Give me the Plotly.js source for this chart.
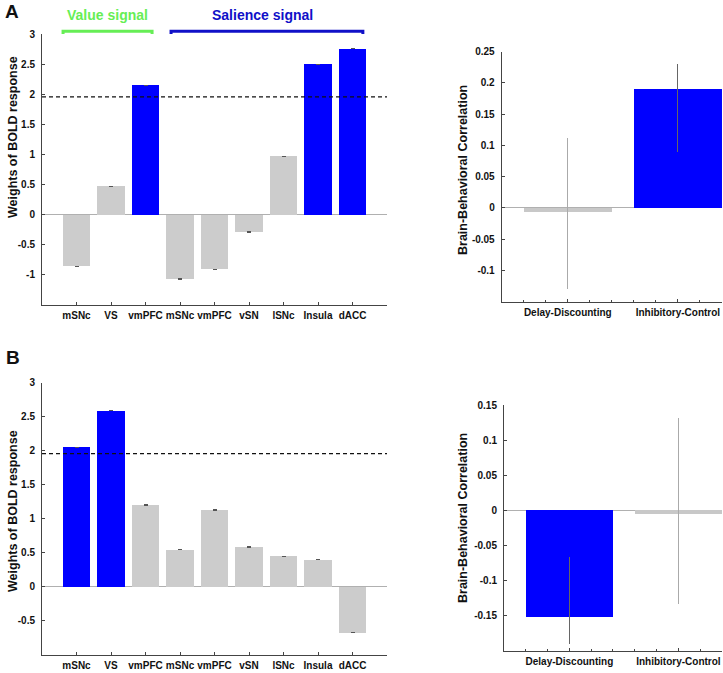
<!DOCTYPE html>
<html>
<head>
<meta charset="utf-8">
<script src="https://cdn.plot.ly/plotly-3.0.1.min.js"></script>
<style>
  html, body { margin: 0; padding: 0; background: white; }
  #chart { width: 723px; height: 673px; }
</style>
</head>
<body>
<div id="chart"></div>
<script>
const regionsA = ["mSNc", "VS", "vmPFC", "mSNc", "vmPFC", "vSN", "lSNc", "Insula", "dACC"];
const weightsA = [-0.86, 0.47, 2.15, -1.07, -0.91, -0.29, 0.97, 2.5, 2.76];
const regionsB = ["mSNc", "VS", "vmPFC", "mSNc", "vmPFC", "vSN", "lSNc", "Insula", "dACC"];
const weightsB = [2.05, 2.59, 1.2, 0.55, 1.13, 0.59, 0.45, 0.4, -0.67];
const threshold = 1.96;

const behaviors = ["Delay-Discounting", "Inhibitory-Control"];
const corrA = [-0.007, 0.19];
const corrAPlus = [0.119, 0.041];
const corrAMinus = [0.122, 0.1];
const sigA = [false, true];
const corrB = [-0.152, -0.006];
const corrBPlus = [0.085, 0.137];
const corrBMinus = [0.038, 0.128];
const sigB = [true, false];

const BLUE = "#0000ff";
const GRAY = "#cccccc";
const AXIS = "#444444";
const FONT = "Liberation Sans Narrow, Arial Narrow, Liberation Sans, Arial, sans-serif";

function weightTrace(labels, weights, xa, ya) {
  return {
    type: "bar",
    x: labels.map((_, i) => i + 1),
    y: weights,
    width: 0.8,
    xaxis: xa,
    yaxis: ya,
    marker: { color: weights.map((w) => (w > threshold ? BLUE : GRAY)) },
    error_y: {
      type: "data",
      array: weights.map((w) => (w > threshold ? 0 : 0.004)),
      color: "#555",
      thickness: 1,
      width: 2
    }
  };
}

function corrTraces(values, plus, minus, sig, xa, ya) {
  return values.map((v, i) => ({
    type: "bar",
    x: [i + 1],
    y: [v],
    width: 0.8,
    xaxis: xa,
    yaxis: ya,
    marker: { color: sig[i] ? BLUE : "#c8c8c8" },
    error_y: {
      type: "data",
      symmetric: false,
      array: [plus[i]],
      arrayminus: [minus[i]],
      color: sig[i] ? "#666" : "#aaa",
      thickness: 1,
      width: 0
    }
  }));
}

const tickFont = { family: FONT, size: 10, color: "#111", weight: "bold" };

function baseAxis(extra) {
  return Object.assign({
    showline: true,
    linecolor: AXIS,
    linewidth: 1,
    ticks: "inside",
    ticklen: 3,
    tickcolor: AXIS,
    showgrid: false,
    zeroline: false,
    tickfont: tickFont,
    tickangle: 0,
    ticklabeloverflow: "allow",
    fixedrange: true
  }, extra);
}

function regionX(domain, labels, anchor) {
  return baseAxis({
    domain,
    anchor,
    range: [0, labels.length + 1],
    tickvals: labels.map((_, i) => i + 1),
    ticktext: labels,
    ticklabelstandoff: 1
  });
}

function behaviorX(domain, anchor) {
  return baseAxis({
    domain,
    anchor,
    range: [0.4, 2.4],
    tickvals: [1, 2],
    ticktext: behaviors,
    ticklabelstandoff: 1,
    minor: { tick0: 0, dtick: 0.2, ticks: "inside", ticklen: 2, tickcolor: AXIS }
  });
}

function valueY(domain, anchor, range, tickvals) {
  return baseAxis({
    domain,
    anchor,
    range,
    tickvals,
    ticktext: tickvals.map((t) => String(Math.round(t * 100) / 100)),
    ticklabelstandoff: 4,
    zeroline: true,
    zerolinecolor: "#b0b0b0",
    zerolinewidth: 1
  });
}

const data = [
  weightTrace(regionsA, weightsA, "x", "y"),
  ...corrTraces(corrA, corrAPlus, corrAMinus, sigA, "x2", "y2"),
  weightTrace(regionsB, weightsB, "x3", "y3"),
  ...corrTraces(corrB, corrBPlus, corrBMinus, sigB, "x4", "y4")
];

function yTitle(text, x, y) {
  return {
    text, xref: "paper", yref: "paper", x, y,
    xanchor: "center", yanchor: "middle",
    showarrow: false, textangle: -90,
    font: { family: "Liberation Sans, Arial, sans-serif", size: 12.5, color: "#111", weight: "bold" }
  };
}

function label(text, x, y, size, color) {
  return {
    text, xref: "paper", yref: "paper", x: x / 723, y: 1 - y / 673,
    xanchor: "center", yanchor: "middle", showarrow: false,
    font: { family: "Liberation Sans, Arial, sans-serif", size, color, weight: "bold" }
  };
}

function bracket(x0, x1, color) {
  return {
    type: "path",
    xref: "x", yref: "paper",
    path: `M ${x0},0.9495 L ${x0},0.9535 L ${x1},0.9535 L ${x1},0.9495`,
    line: { color, width: 3 }
  };
}

const layout = {
  width: 723,
  height: 673,
  margin: { l: 0, r: 0, t: 0, b: 0 },
  paper_bgcolor: "white",
  plot_bgcolor: "white",
  showlegend: false,
  hovermode: false,
  bargap: 0,
  xaxis: regionX([0.0581, 0.5353], regionsA, "y"),
  yaxis: valueY([0.547, 0.949], "x", [-1.5, 3], [-1, -0.5, 0, 0.5, 1, 1.5, 2, 2.5, 3]),
  xaxis2: behaviorX([0.6939, 0.9986], "y2"),
  yaxis2: valueY([0.5517, 0.9232], "x2", [-0.15, 0.25], [-0.1, -0.05, 0, 0.05, 0.1, 0.15, 0.2, 0.25]),
  xaxis3: regionX([0.0581, 0.5353], regionsB, "y3"),
  yaxis3: valueY([0.0267, 0.4313], "x3", [-1, 3], [-0.5, 0, 0.5, 1, 1.5, 2, 2.5, 3]),
  xaxis4: behaviorX([0.6971, 0.9986], "y4"),
  yaxis4: valueY([0.0334, 0.3982], "x4", [-0.2, 0.15], [-0.15, -0.1, -0.05, 0, 0.05, 0.1, 0.15]),
  shapes: [
    { type: "line", xref: "x domain", yref: "y", x0: 0, x1: 1, y0: threshold, y1: threshold,
      line: { color: "#111", width: 1.3, dash: "4px,3px" } },
    { type: "line", xref: "x3 domain", yref: "y3", x0: 0, x1: 1, y0: threshold, y1: threshold,
      line: { color: "#111", width: 1.3, dash: "4px,3px" } },
    bracket(0.61, 3.19, "#66ee55"),
    bracket(3.74, 9.3, "#1010c8")
  ],
  annotations: [
    label("A", 12, 11, 19, "#111"),
    label("B", 13, 357, 19, "#111"),
    label("Value signal", 107, 15, 14, "#66ee55"),
    label("Salience signal", 262, 15, 14, "#1010c8"),
    yTitle("Weights of BOLD response", 13 / 723, 1 - 137 / 673),
    yTitle("Brain-Behavioral Correlation", 463 / 723, 1 - 170 / 673),
    yTitle("Weights of BOLD response", 13 / 723, 1 - 511 / 673),
    yTitle("Brain-Behavioral Correlation", 463 / 723, 1 - 518 / 673)
  ]
};

Plotly.newPlot("chart", data, layout, { staticPlot: true });
</script>
</body>
</html>
